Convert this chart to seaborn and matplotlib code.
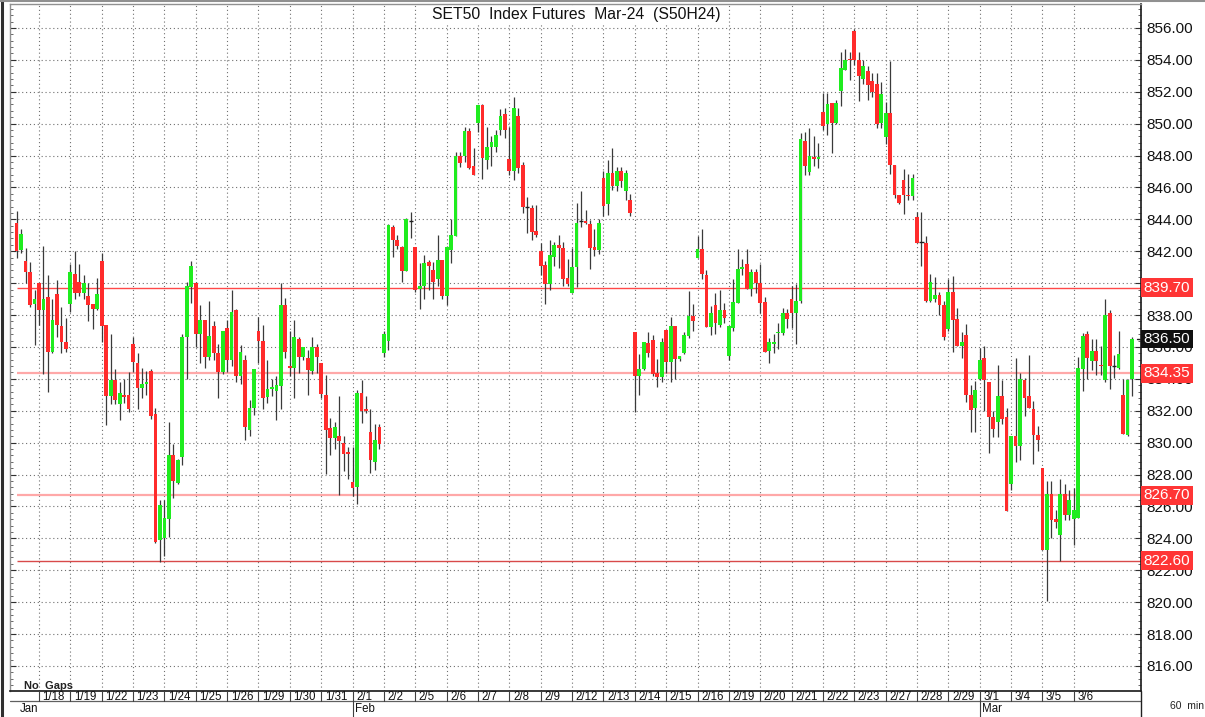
import numpy as np
import pandas as pd
import seaborn as sns
import matplotlib.pyplot as plt
from matplotlib import transforms, font_manager
from matplotlib.ticker import MultipleLocator, FormatStrFormatter

# ---- data: SET50 futures, 60 min bars, 7 bars per session ----
day_labels = ["1/17", "1/18", "1/19", "1/22", "1/23", "1/24", "1/25", "1/26", "1/29",
              "1/30", "1/31", "2/1", "2/2", "2/5", "2/6", "2/7", "2/8", "2/9", "2/12",
              "2/13", "2/14", "2/15", "2/16", "2/19", "2/20", "2/21", "2/22", "2/23",
              "2/27", "2/28", "2/29", "3/1", "3/4", "3/5", "3/6", "3/7"]
bars_per_day = [5] + [7] * 35
month_labels = ["Jan", "Feb", "Mar"]
month_start_day = ["1/17", "2/1", "3/1"]

open_px = [
    843.8, 842.1, 841.4, 840.7, 838.7,
    840.0, 838.3, 839.1, 835.7, 839.3, 837.3, 836.3,
    838.7, 840.6, 840.1, 839.4, 839.2, 838.7, 838.4,
    841.4, 837.4, 832.9, 833.9, 832.4, 833.0, 833.0,
    836.2, 835.0, 833.4, 833.65, 834.5, 831.8, 823.9,
    824.0, 825.2, 829.2, 827.5, 829.1, 836.6, 839.75,
    840.0, 836.8, 837.7, 835.4, 837.3, 835.6, 834.4,
    837.2, 835.2, 838.3, 834.15, 835.2, 830.8, 832.2,
    837.0, 836.4, 832.84, 833.36, 833.26, 833.57, 838.6,
    834.82, 834.68, 836.49, 835.37, 835.3, 834.47, 835.99,
    834.99, 833.01, 830.92, 830.29, 830.42, 829.98, 829.44,
    827.52, 827.22, 833.11, 832.11, 830.65, 828.77, 831.0,
    835.6, 836.4, 843.54, 842.73, 842.25, 840.73, 843.92,
    842.25, 839.64, 839.85, 841.35, 840.83, 840.23, 841.46,
    839.22, 842.1, 842.94, 847.95, 847.99, 849.56, 847.32,
    850.02, 851.16, 847.74, 848.51, 848.52, 849.6, 850.6,
    847.79, 847.06, 850.5, 847.42, 844.76, 844.7, 843.28,
    841.99, 841.11, 839.96, 841.67, 842.4, 842.2, 840.32,
    839.38, 841.01, 843.91, 843.91, 843.7, 842.24, 842.09,
    846.62, 844.97, 846.89, 846.1, 847.0, 845.8, 845.2,
    836.91, 834.19, 834.61, 836.22, 836.43, 834.34, 834.13,
    837.05, 835.03, 837.32, 835.24, 835.61, 836.7, 837.91,
    841.6, 842.13, 840.5, 837.28, 838.62, 837.37, 838.33,
    835.44, 837.21, 838.78, 840.91, 841.22, 839.65, 840.72,
    840.03, 838.82, 835.75, 836.17, 836.85, 836.85, 838.11,
    839.03, 838.15, 838.88, 848.9, 846.98, 847.92, 847.8,
    850.72, 849.99, 851.3, 850.05, 852.03, 853.39, 854.05,
    855.79, 854.0, 852.8, 853.3, 852.7, 852.5, 850.02,
    849.14, 850.66, 847.41, 845.53, 846.47, 845.53, 845.44,
    844.13, 842.56, 842.52, 838.91, 839.01, 839.26, 838.64,
    837.14, 839.43, 837.76, 836.05, 836.76, 832.96, 832.17,
    833.99, 835.3, 833.78, 831.61, 831.27, 832.9, 831.61,
    827.43, 830.4, 829.81, 833.95, 832.9, 832.11, 830.5,
    828.41, 823.3, 826.79, 825.22, 824.18, 826.79, 825.49,
    825.22, 825.28, 834.61, 836.81, 835.09, 835.72, 834.89,
    833.9, 838.12, 834.78, 834.68, 833.01, 830.5, 833.99,
]
high_px = [
    844.5, 843.4, 842.2, 841.3, 839.6,
    840.0, 842.3, 840.5, 839.0, 840.2, 838.5, 837.8,
    841.2, 842.0, 841.2, 840.5, 840.0, 838.7, 840.3,
    841.9, 837.4, 836.8, 834.6, 833.8, 834.0, 834.4,
    836.6, 835.6, 834.7, 834.5, 834.6, 832.2, 826.4,
    826.4, 831.3, 829.9, 829.0, 836.8, 840.1, 841.4,
    840.1, 838.6, 837.7, 838.9, 837.6, 836.2, 837.0,
    837.7, 839.6, 838.4, 836.1, 835.5, 832.7, 834.6,
    837.9, 837.4, 835.2, 834.0, 834.2, 840.0, 839.06,
    836.97, 837.7, 836.6, 835.99, 835.82, 836.6, 836.18,
    834.99, 834.26, 831.54, 831.29, 832.9, 830.4, 829.73,
    829.71, 833.32, 833.9, 832.9, 832.11, 831.2, 831.2,
    837.0, 843.7, 843.65, 843.04, 842.35, 844.07, 844.44,
    842.25, 841.27, 841.77, 841.48, 841.35, 843.04, 841.46,
    842.35, 844.03, 848.2, 848.2, 849.77, 849.7, 848.45,
    851.16, 851.23, 849.77, 849.24, 849.6, 850.9, 851.0,
    849.8, 851.7, 851.0, 847.6, 845.43, 844.91, 844.91,
    842.51, 841.36, 842.72, 842.59, 843.01, 842.61, 841.51,
    842.2, 845.01, 845.79, 844.6, 843.97, 843.41, 844.01,
    847.0, 847.73, 848.46, 847.3, 847.3, 847.1, 845.6,
    836.91, 835.55, 836.34, 836.91, 836.74, 835.24, 836.55,
    837.05, 837.85, 837.32, 835.44, 836.91, 839.52, 838.72,
    842.96, 843.42, 840.83, 838.58, 839.37, 839.56, 838.74,
    837.32, 840.24, 842.12, 841.53, 842.12, 840.91, 840.91,
    841.22, 839.13, 836.54, 836.79, 837.48, 838.46, 838.36,
    839.82, 839.92, 849.42, 849.47, 849.74, 849.21, 848.8,
    851.89, 851.89, 851.3, 851.51, 854.5, 854.71, 854.5,
    855.94, 854.5, 854.0, 853.6, 853.2, 853.2, 852.6,
    851.33, 853.9, 847.41, 845.53, 847.16, 846.84, 846.84,
    844.44, 844.44, 842.98, 840.58, 840.37, 839.47, 838.85,
    840.23, 840.43, 838.43, 836.93, 837.45, 833.59, 833.84,
    835.93, 836.03, 833.78, 831.96, 834.89, 833.9, 832.17,
    830.4, 835.3, 834.36, 834.05, 835.51, 832.59, 831.02,
    828.41, 827.58, 827.58, 825.8, 827.73, 827.43, 827.06,
    827.16, 835.37, 836.87, 837.01, 836.49, 836.49, 836.08,
    839.0, 838.33, 835.51, 836.97, 833.99, 833.99, 836.62,
]
low_px = [
    841.6, 841.9, 840.0, 838.5, 836.1,
    837.4, 834.3, 833.2, 835.6, 836.6, 835.6, 835.7,
    838.2, 839.0, 839.2, 839.0, 837.6, 837.1, 838.3,
    836.3, 831.1, 832.4, 832.4, 831.4, 832.5, 831.9,
    834.4, 832.1, 832.8, 833.0, 831.5, 823.7, 822.5,
    822.9, 824.1, 826.5, 827.4, 828.6, 834.0, 838.75,
    836.0, 835.0, 834.7, 835.2, 835.2, 832.8, 834.3,
    834.4, 834.8, 833.8, 833.7, 830.15, 830.4, 831.75,
    835.0, 832.1, 832.5, 832.9, 831.4, 832.1, 835.3,
    834.15, 832.8, 834.36, 835.2, 832.96, 834.32, 834.36,
    832.8, 828.06, 829.23, 829.6, 826.74, 828.25, 827.72,
    826.64, 826.14, 831.23, 831.86, 828.1, 828.3, 829.6,
    835.4, 835.8, 841.62, 842.15, 840.1, 840.73, 842.81,
    839.43, 838.35, 839.01, 839.54, 839.01, 839.85, 839.01,
    838.64, 841.25, 842.94, 847.26, 847.62, 847.16, 846.8,
    849.45, 846.53, 847.16, 847.37, 848.25, 849.3, 849.08,
    846.75, 846.48, 846.9, 844.39, 843.14, 842.68, 842.89,
    840.48, 838.71, 839.54, 841.05, 840.94, 839.8, 839.8,
    839.38, 839.75, 843.55, 843.7, 840.88, 841.72, 841.84,
    844.18, 844.28, 845.81, 845.8, 846.0, 845.2, 844.2,
    831.9, 833.0, 834.57, 835.4, 834.19, 833.5, 833.82,
    834.36, 833.82, 834.02, 835.13, 835.55, 836.59, 837.01,
    841.6, 840.29, 837.22, 836.74, 836.8, 837.22, 837.49,
    835.19, 837.0, 838.73, 840.49, 839.65, 839.19, 839.4,
    838.15, 835.69, 835.02, 835.65, 835.9, 836.73, 837.21,
    837.21, 836.17, 838.73, 846.81, 846.81, 847.34, 847.23,
    849.63, 849.26, 848.17, 849.95, 851.09, 853.39, 852.76,
    853.7, 851.4, 852.5, 851.5, 851.7, 849.7, 849.7,
    848.72, 846.84, 845.32, 844.96, 844.34, 845.24, 845.24,
    842.52, 841.1, 838.81, 838.81, 838.81, 838.01, 836.41,
    837.03, 835.67, 836.05, 835.3, 832.54, 830.66, 830.66,
    833.95, 831.96, 829.35, 830.35, 830.35, 831.19, 825.7,
    827.06, 828.77, 828.94, 831.65, 832.17, 828.68, 829.46,
    823.26, 820.06, 824.03, 824.66, 822.61, 825.18, 825.14,
    823.61, 825.28, 833.22, 833.99, 834.57, 834.26, 834.26,
    833.78, 833.36, 834.05, 834.61, 830.56, 830.44, 832.94,
]
close_px = [
    842.0, 843.1, 840.7, 838.6, 839.0,
    838.3, 839.0, 835.7, 837.7, 837.4, 836.3, 835.9,
    840.7, 839.4, 839.4, 840.0, 838.6, 838.4, 839.3,
    837.3, 832.9, 833.9, 832.7, 833.1, 832.85, 832.1,
    835.05, 833.4, 833.7, 833.8, 831.65, 823.8, 826.1,
    825.3, 829.2, 827.6, 828.9, 836.6, 839.8, 841.1,
    836.8, 837.7, 835.4, 836.7, 835.6, 834.4, 837.0,
    835.2, 838.2, 834.15, 835.7, 831.0, 832.2, 834.6,
    836.35, 832.8, 833.38, 833.51, 833.59, 838.6, 835.66,
    834.68, 836.6, 835.37, 835.99, 834.57, 835.99, 835.37,
    833.07, 830.77, 830.29, 830.98, 830.08, 829.31, 829.29,
    827.16, 833.11, 831.96, 831.96, 828.89, 830.19, 829.9,
    836.8, 843.65, 842.73, 842.31, 840.73, 844.03, 843.92,
    839.54, 839.81, 841.27, 841.06, 840.1, 841.46, 839.22,
    842.25, 843.04, 847.95, 847.53, 849.56, 847.22, 846.8,
    851.16, 847.82, 848.51, 848.83, 849.29, 850.5, 849.6,
    847.06, 851.0, 847.2, 844.76, 844.76, 843.18, 843.03,
    841.05, 839.96, 841.78, 842.4, 842.2, 840.28, 839.96,
    841.01, 843.8, 843.91, 843.76, 842.18, 842.09, 843.8,
    844.85, 846.89, 846.06, 847.0, 846.4, 846.9, 844.4,
    834.19, 834.61, 836.34, 835.65, 834.3, 834.13, 836.32,
    835.03, 837.32, 835.24, 835.44, 836.74, 837.91, 837.64,
    842.13, 840.56, 837.22, 838.12, 837.49, 838.33, 837.8,
    837.32, 838.82, 840.91, 841.03, 839.65, 840.72, 840.03,
    838.78, 835.69, 836.31, 836.31, 836.94, 838.11, 837.77,
    838.15, 838.88, 849.01, 847.34, 848.0, 847.8, 847.92,
    849.88, 851.2, 850.05, 851.3, 853.49, 854.02, 853.98,
    854.02, 853.0, 853.6, 852.4, 852.0, 849.97, 851.85,
    850.66, 847.41, 845.53, 845.03, 845.53, 845.44, 846.57,
    842.52, 842.56, 838.91, 840.06, 839.26, 838.64, 836.61,
    839.43, 837.72, 836.05, 836.34, 832.96, 832.02, 833.28,
    835.2, 833.9, 831.61, 830.88, 832.9, 831.48, 825.7,
    830.4, 829.81, 833.99, 832.8, 832.17, 830.5, 830.19,
    823.3, 826.79, 825.18, 825.01, 826.79, 825.49, 826.43,
    825.76, 834.68, 836.7, 835.3, 835.76, 835.09, 834.78,
    838.02, 834.78, 834.78, 835.57, 830.56, 833.9, 836.5,
]

level_values = [839.70, 834.35, 826.70, 822.60]
level_colors = ["#ff4848", "#ffa8a8", "#ffa8a8", "#d84a4a"]
last_price = 836.50
title = "SET50  Index Futures  Mar-24  (S50H24)"

# ---- build frame ----
first_bar = -bars_per_day[0]
bars = pd.DataFrame({"open": open_px, "high": high_px, "low": low_px, "close": close_px})
bars["x"] = np.arange(first_bar, first_bar + len(bars))
day_start = dict(zip(day_labels, np.cumsum([0] + bars_per_day[:-1]) + first_bar))

sns.set_theme(style="white", rc={"axes.edgecolor": "#404040"})
names = {f.name for f in font_manager.fontManager.ttflist}
main_font = "Liberation Sans" if "Liberation Sans" in names else "DejaVu Sans"
narrow_font = "Liberation Sans Narrow" if "Liberation Sans Narrow" in names else main_font
plt.rcParams["font.family"] = [main_font, "DejaVu Sans"]

W, H = 1205, 717
fig = plt.figure(figsize=(W / 100, H / 100), dpi=100)
fig.patch.set_facecolor("white")
ax = fig.add_axes([10 / W, 26 / H, 1131 / W, 687 / H])
ax.set_xlim(-6.47, 246.0)
ax.set_ylim(814.43, 857.5)

def yf(py):
    return (H - py) / H

# grid
for p in np.arange(816, 857, 2):
    ax.axhline(p, color="#707070", lw=0.8, ls=(0, (1, 2.5)), zorder=0)
for d in day_labels[1:-1]:
    ax.axvline(day_start[d], color="#707070", lw=0.8, ls=(0, (1, 2.5)), zorder=0)

# level lines
for v, c in zip(level_values, level_colors):
    lw = 1.6 if c == "#ffa8a8" else 1.0
    ax.plot([first_bar, 246.0], [v, v], color=c, lw=lw, zorder=1, solid_capstyle="butt")

# candles
up = bars["close"] > bars["open"]
down = bars["close"] < bars["open"]
flat = bars["close"] == bars["open"]
ax.vlines(bars["x"], bars["low"], bars["high"], color="#3a3a3a", lw=0.9, zorder=2)
ax.bar(bars.loc[up, "x"], bars.loc[up, "close"] - bars.loc[up, "open"],
       bottom=bars.loc[up, "open"], width=0.84, color="#1fec1f", lw=0, zorder=3)
ax.bar(bars.loc[down, "x"], bars.loc[down, "close"] - bars.loc[down, "open"],
       bottom=bars.loc[down, "open"], width=0.84, color="#ff2b2b", lw=0, zorder=3)
ax.hlines(bars.loc[flat, "close"], bars.loc[flat, "x"] - 0.45, bars.loc[flat, "x"] + 0.45,
          color="#202020", lw=1.0, zorder=3)

# axes styling
ax.set_xticks([])
ax.yaxis.tick_right()
ax.yaxis.set_major_locator(MultipleLocator(2))
ax.yaxis.set_minor_locator(MultipleLocator(0.4))
ax.yaxis.set_major_formatter(FormatStrFormatter("%.2f"))
ax.tick_params(axis="y", which="major", left=True, right=True, direction="in",
               length=4, width=0.8, color="#303030", labelsize=11, pad=4,
               labelcolor="#111111")
ax.tick_params(axis="y", which="minor", left=True, right=True, direction="in",
               length=2.5, width=0.6, color="#505050")
for side in ["top", "left"]:
    ax.spines[side].set_color("#909090")
    ax.spines[side].set_linewidth(1.0)
ax.spines["right"].set_color("#202020")
ax.spines["bottom"].set_color("#202020")

# level price tags on the right axis
ytrans = transforms.blended_transform_factory(ax.transAxes, ax.transData)
for v in level_values:
    ax.text(1.0025, v, f"{v:.2f}", transform=ytrans, ha="left", va="center",
            fontsize=11, color="white", zorder=10, clip_on=False,
            bbox=dict(boxstyle="square,pad=0.16", fc="#ff3535", ec="none"))
ax.text(1.0025, last_price, f"{last_price:.2f}", transform=ytrans, ha="left",
        va="center", fontsize=11, color="white", zorder=11, clip_on=False,
        bbox=dict(boxstyle="square,pad=0.16", fc="#101010", ec="none"))
ax.plot([0.9965, 0.999], [last_price, last_price], transform=ytrans, color="#202020",
        lw=1.0, clip_on=False, zorder=11)

# title and notes
fig.text(576 / W, yf(15), title, ha="center", va="center", fontsize=11.3,
         color="#111111", bbox=dict(boxstyle="square,pad=0.1", fc="white", ec="none"))
fig.text(24 / W, yf(686), "No  Gaps", ha="left", va="center", fontsize=8,
         family=narrow_font, fontweight="bold", color="#222222")
fig.text(1170 / W, yf(706), "60  min", ha="left", va="center", fontsize=7.5,
         family=narrow_font, color="#222222")

# date rows under the chart
xtrans = transforms.blended_transform_factory(ax.transData, fig.transFigure)
fig.add_artist(plt.Line2D([10 / W, 1141 / W], [yf(701), yf(701)], color="#606060", lw=0.9))
fig.add_artist(plt.Line2D([1141 / W, 1141 / W], [0, yf(691)], color="#202020", lw=1.0))
fig.add_artist(plt.Line2D([1.5 / W, 1.5 / W], [0, 1], color="#303030", lw=2.2))
fig.add_artist(plt.Line2D([0, 1], [yf(1), yf(1)], color="#909090", lw=1.5))
for d in day_labels[1:-1]:
    x0 = day_start[d]
    fig.add_artist(plt.Line2D([x0, x0], [yf(701), yf(691)], transform=xtrans,
                              color="#404040", lw=0.8))
    fig.text(x0 + 0.8, yf(696.5), d, transform=xtrans, ha="left", va="center",
             fontsize=8.3, family=narrow_font, color="#111111")
for m, d in zip(month_labels, month_start_day):
    if d == day_labels[0]:
        fig.text(20 / W, yf(709.5), m, ha="left", va="center", fontsize=8.3,
                 family=narrow_font, color="#111111")
        continue
    x0 = day_start[d]
    fig.add_artist(plt.Line2D([x0, x0], [0, yf(701)], transform=xtrans,
                              color="#404040", lw=0.8))
    fig.text(x0 + 0.6, yf(709.5), m, transform=xtrans, ha="left", va="center",
             fontsize=8.3, family=narrow_font, color="#111111")

fig.savefig("out.png", dpi=100, facecolor="white")
